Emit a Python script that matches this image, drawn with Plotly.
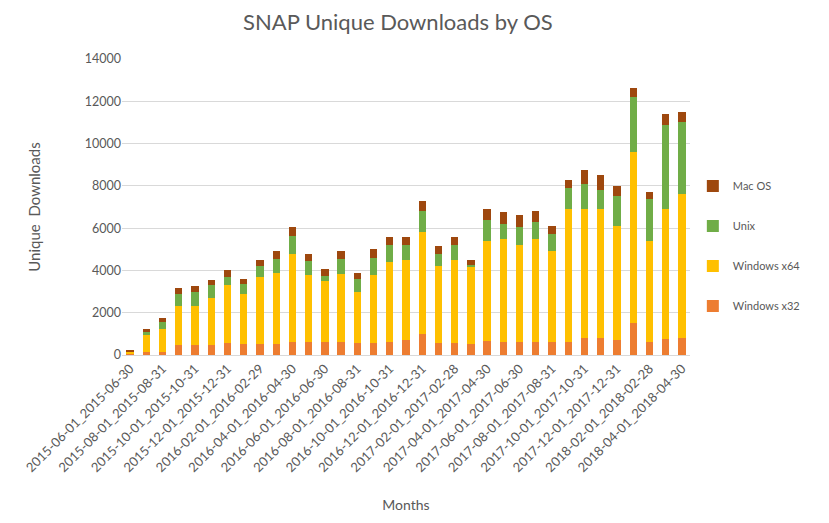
import plotly.graph_objects as go

months = [
    "2015-06", "2015-07", "2015-08", "2015-09", "2015-10", "2015-11", "2015-12",
    "2016-01", "2016-02", "2016-03", "2016-04", "2016-05", "2016-06", "2016-07",
    "2016-08", "2016-09", "2016-10", "2016-11", "2016-12",
    "2017-01", "2017-02", "2017-03", "2017-04", "2017-05", "2017-06", "2017-07",
    "2017-08", "2017-09", "2017-10", "2017-11", "2017-12",
    "2018-01", "2018-02", "2018-03", "2018-04",
]
month_ends = [
    "30", "31", "31", "30", "31", "30", "31",
    "31", "29", "31", "30", "31", "30", "31",
    "31", "30", "31", "30", "31",
    "31", "28", "31", "30", "31", "30", "31",
    "31", "30", "31", "30", "31",
    "31", "28", "31", "30",
]
categories = [f"{m}-01_{m}-{e}" for m, e in zip(months, month_ends)]

win32 = [50, 150, 150, 450, 450, 450, 550, 500, 500, 500, 600, 600, 600, 600, 550, 550, 600, 700, 1000,
         550, 550, 500, 650, 600, 600, 600, 600, 600, 800, 800, 700, 1500, 600, 750, 800]
win64 = [100, 800, 1100, 1850, 1850, 2250, 2750, 2400, 3200, 3400, 4200, 3200, 2900, 3250, 2450, 3250, 3800, 3800, 4800,
         3650, 3950, 3700, 4750, 4900, 4600, 4900, 4300, 6300, 6100, 6100, 5400, 8100, 4800, 6150, 6800]
unix = [30, 150, 300, 600, 700, 600, 400, 450, 500, 650, 850, 650, 250, 700, 600, 800, 800, 700, 1000,
        600, 700, 50, 1000, 700, 850, 800, 800, 1000, 1200, 900, 1400, 2600, 2000, 4000, 3400]
mac = [20, 150, 200, 250, 250, 250, 300, 250, 300, 350, 400, 350, 300, 350, 300, 400, 400, 400, 500,
       350, 400, 250, 500, 550, 550, 500, 400, 400, 650, 700, 500, 450, 300, 500, 500]

series = [
    ("Windows x32", win32, "#ED7D31", 4),
    ("Windows x64", win64, "#FFC000", 3),
    ("Unix", unix, "#70AD47", 2),
    ("Mac OS", mac, "#9E480E", 1),
]

fig = go.Figure()
for name, vals, color, rank in series:
    fig.add_trace(go.Bar(x=categories, y=vals, name=name, marker_color=color,
                         marker_line_width=0, legendgroup=name, legendrank=rank))

fig.update_layout(
    barmode="stack",
    bargap=0.55,
    width=829, height=523,
    margin=dict(l=122, r=139, t=59, b=168),
    paper_bgcolor="white", plot_bgcolor="white",
    font=dict(family="Lato, Open Sans, sans-serif", color="#595959", size=11),
    title=dict(text="SNAP Unique Downloads by OS", x=0.48, xanchor="center",
               y=0.958, yanchor="middle",
               font=dict(size=22, color="#595959")),
    legend=dict(traceorder="grouped", tracegroupgap=21, x=1.005, y=0.62, yanchor="top",
                font=dict(size=11, color="#595959"), itemwidth=30),
    showlegend=True,
)
fig.update_xaxes(
    tickmode="array", tickvals=categories[::2], ticktext=categories[::2],
    tickangle=-45, tickfont=dict(size=13, color="#595959"),
    title=dict(text="Months", font=dict(size=14, color="#595959"), standoff=26),
    showline=True, linecolor="#D9D9D9", ticks="", automargin=False,
)
fig.update_yaxes(
    range=[0, 14000], dtick=2000, tickformat="d", showgrid=True, gridcolor="#D9D9D9",
    tickfont=dict(size=12.5, color="#595959"), zeroline=False, automargin=False,
    title=dict(text="Unique  Downloads", font=dict(size=15, color="#595959"), standoff=40),
)

fig.write_html("out.html", config={"displayModeBar": False},
               post_script="document.body.style.margin='0px';")
